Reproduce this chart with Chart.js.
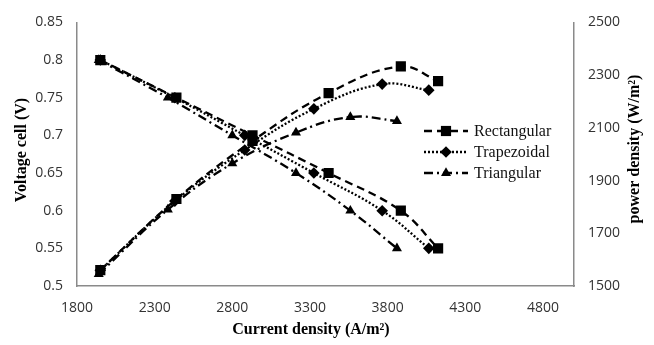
<!DOCTYPE html>
<html><head><meta charset="utf-8">
<script src="https://cdn.jsdelivr.net/npm/chart.js@4/dist/chart.umd.min.js"></script>
<style>html,body{margin:0;padding:0;background:#fff;} canvas{display:block;}</style>
</head><body>
<canvas id="c" width="654" height="345"></canvas>
<script>
const seriesNames = ['Rectangular', 'Trapezoidal', 'Triangular'];
const voltage = [0.8, 0.75, 0.7, 0.65, 0.6, 0.55];
const currentRect = [1950, 2440, 2930, 3420, 3885, 4125];
const currentTrap = [1950, 2430, 2880, 3325, 3765, 4065];
const currentTri  = [1940, 2385, 2800, 3210, 3560, 3860];
const powerRect = [1560, 1830, 2050, 2232, 2333, 2277];
const powerTrap = [1560, 1822, 2016, 2172, 2266, 2243];
const powerTri  = [1545, 1790, 1965, 2082, 2141, 2126];
const xTicks = [1800, 2300, 2800, 3300, 3800, 4300, 4800];
const yLeftTicks = [0.5, 0.55, 0.6, 0.65, 0.7, 0.75, 0.8, 0.85];
const yLeftLabels = ['0.5', '0.55', '0.6', '0.65', '0.7', '0.75', '0.8', '0.85'];
const yRightTicks = [1500, 1700, 1900, 2100, 2300, 2500];
const xTitle = 'Current density (A/m²)';
const yLeftTitle = 'Voltage cell (V)';
const yRightTitle = 'power density (W/m²)';

const styles = [
  {dash: [8, 5], point: 'rect', radius: 7.2, width: 2.3},
  {dash: [2, 2], point: 'rectRot', radius: 5.8, width: 2.3},
  {dash: [9, 4, 2, 4], point: 'triangle', radius: 5.8, width: 2.3}
];
const currents = [currentRect, currentTrap, currentTri];
const powers = [powerRect, powerTrap, powerTri];

function pts(xs, ys) { return xs.map((x, i) => ({x: x, y: ys[i]})); }

const datasets = [];
seriesNames.forEach((name, k) => {
  const s = styles[k];
  const base = {
    borderColor: '#000', backgroundColor: '#000', borderWidth: s.width,
    borderDash: s.dash, pointStyle: s.point, pointRadius: s.radius,
    pointHoverRadius: s.radius, pointBorderWidth: 0, pointBackgroundColor: '#000',
    showLine: true, tension: 0.4, fill: false
  };
  datasets.push(Object.assign({label: name, data: pts(currents[k], voltage), yAxisID: 'y'}, base));
  datasets.push(Object.assign({label: name + ' power', data: pts(currents[k], powers[k]), yAxisID: 'y2'}, base));
});

function drawMarker(ctx, style, x, y, r) {
  ctx.beginPath();
  if (style === 'rect') {
    const s = r * Math.SQRT1_2;
    ctx.rect(x - s, y - s, 2 * s, 2 * s);
  } else if (style === 'rectRot') {
    ctx.moveTo(x, y - r); ctx.lineTo(x + r, y); ctx.lineTo(x, y + r); ctx.lineTo(x - r, y); ctx.closePath();
  } else {
    const h = r * 1.5, w = r * Math.cos(Math.PI / 6) * 2;
    ctx.moveTo(x, y - r); ctx.lineTo(x + w / 2, y + h - r); ctx.lineTo(x - w / 2, y + h - r); ctx.closePath();
  }
  ctx.fill();
}

const deco = {
  id: 'deco',
  afterDraw(chart) {
    const ctx = chart.ctx, a = chart.chartArea;
    ctx.save();
    ctx.fillStyle = '#000';
    ctx.font = 'bold 16px "Liberation Serif", "Times New Roman", serif';
    ctx.textAlign = 'center'; ctx.textBaseline = 'middle';
    ctx.fillText(xTitle, 311, 330);
    ctx.save();
    ctx.translate(22, 150);
    ctx.rotate(-Math.PI / 2);
    ctx.fillText(yLeftTitle, 0, 0);
    ctx.restore();
    ctx.save();
    ctx.translate(635, 149);
    ctx.rotate(-Math.PI / 2);
    ctx.fillText(yRightTitle, 0, 0);
    ctx.restore();
    // legend
    const rows = [131, 152, 173];
    ctx.font = '16px "Liberation Serif", "Times New Roman", serif';
    ctx.textAlign = 'left';
    seriesNames.forEach((name, k) => {
      const s = styles[k], y = rows[k];
      ctx.strokeStyle = '#000'; ctx.lineWidth = s.width;
      ctx.setLineDash(s.dash);
      ctx.beginPath(); ctx.moveTo(424, y); ctx.lineTo(468, y); ctx.stroke();
      ctx.setLineDash([]);
      drawMarker(ctx, s.point, 446, y, s.radius);
      ctx.fillStyle = '#111';
      ctx.fillText(name, 474, y + 1);
      ctx.fillStyle = '#000';
    });
    ctx.restore();
  }
};

const tickFont = {family: '"Open Sans", "Liberation Sans", sans-serif', size: 14};
const axisBorder = {display: true, color: '#8a8a8a', width: 1.5};

new Chart(document.getElementById('c'), {
  type: 'scatter',
  data: {datasets: datasets},
  options: {
    responsive: false, animation: false, devicePixelRatio: 1,
    layout: {padding: {top: 16, left: 0, right: 0, bottom: 0}},
    plugins: {legend: {display: false}, tooltip: {enabled: false}},
    scales: {
      x: {
        type: 'linear', min: 1800, max: 5000,
        afterBuildTicks: (sc) => { sc.ticks = xTicks.map(v => ({value: v})); },
        afterFit: (sc) => { sc.height = 59; },
        grid: {display: false, drawTicks: false},
        border: axisBorder,
        ticks: {color: '#333', font: tickFont, padding: 14, maxRotation: 0, callback: (v) => String(v)}
      },
      y: {
        type: 'linear', position: 'left', min: 0.5, max: 0.85,
        afterBuildTicks: (sc) => { sc.ticks = yLeftTicks.map(v => ({value: v})); },
        afterFit: (sc) => { sc.width = 77; },
        grid: {display: false, drawTicks: false},
        border: axisBorder,
        ticks: {color: '#333', font: tickFont, padding: 14, callback: (v, i) => yLeftLabels[i]}
      },
      y2: {
        type: 'linear', position: 'right', min: 1500, max: 2500,
        afterBuildTicks: (sc) => { sc.ticks = yRightTicks.map(v => ({value: v})); },
        afterFit: (sc) => { sc.width = 80; },
        grid: {display: false, drawTicks: false},
        border: axisBorder,
        ticks: {color: '#333', font: tickFont, padding: 14, callback: (v) => String(v)}
      }
    }
  },
  plugins: [deco]
});
</script>
</body></html>
